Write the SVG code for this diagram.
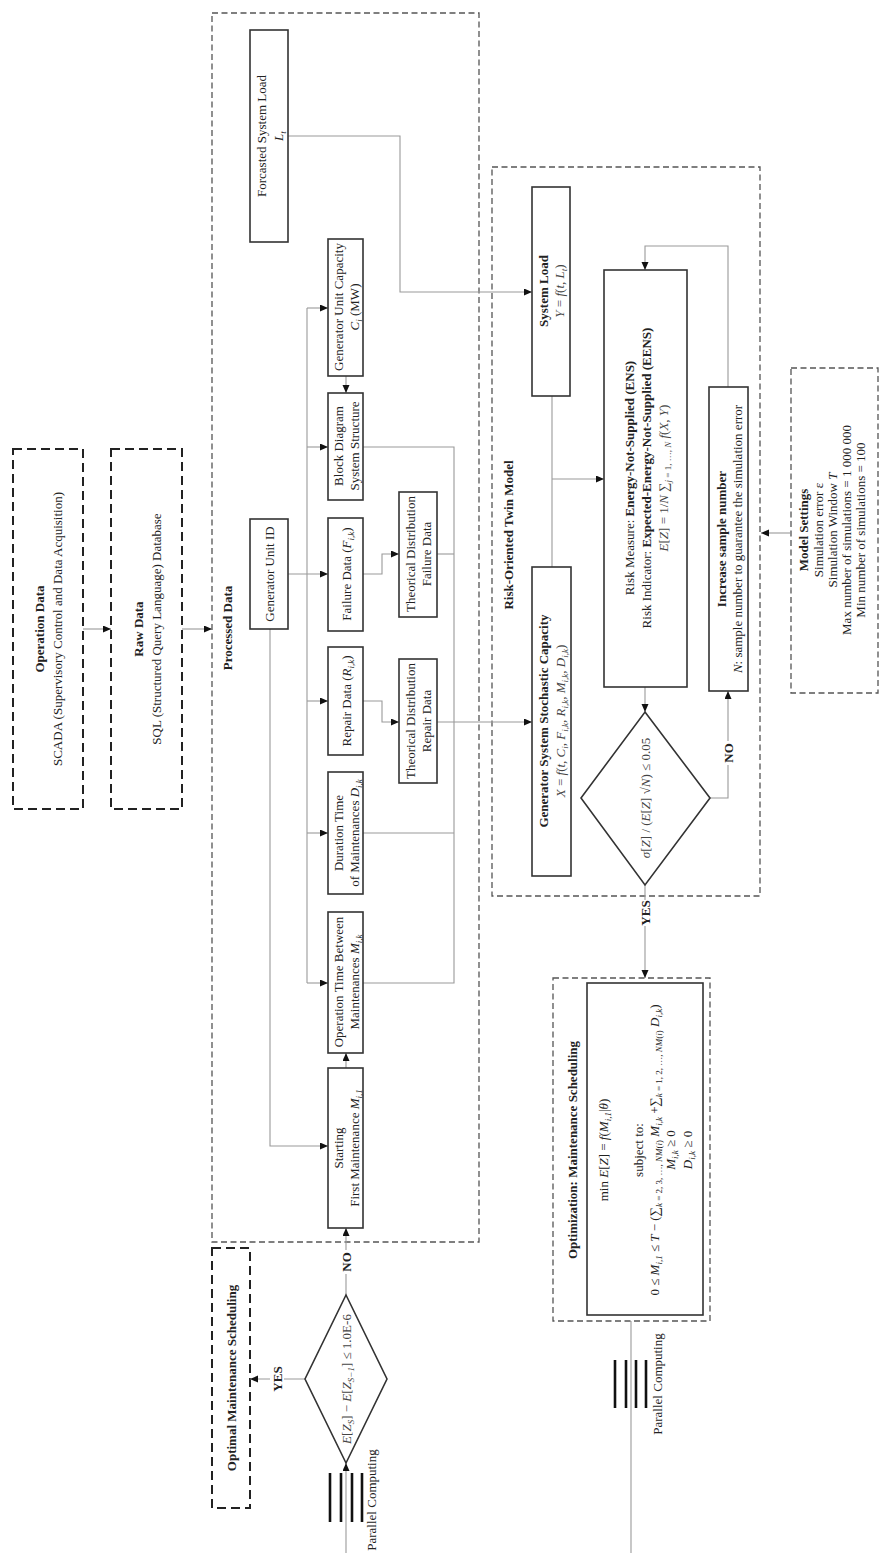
<svg xmlns="http://www.w3.org/2000/svg" width="893" height="1553" viewBox="0 0 893 1553">
<style>
.t{font-family:"Liberation Serif","Times New Roman",serif;font-size:13px;fill:#222;text-anchor:middle;dominant-baseline:central}
.b{font-weight:bold}
.i{font-style:italic}
.m{fill:#444}
.s{font-size:9px}
.box{fill:#fff;stroke:#333;stroke-width:1.6}
.dash{fill:none;stroke:#555;stroke-width:1.3;stroke-dasharray:6 3.5}
.dash2{fill:none;stroke:#222;stroke-width:2;stroke-dasharray:9 5}
.c{fill:none;stroke:#9a9a9a;stroke-width:1.1}
.a{marker-end:url(#arr)}
.pc{stroke:#111;stroke-width:2.6}
.bg{fill:#fff}
</style>
<defs>
<marker id="arr" markerUnits="userSpaceOnUse" markerWidth="9" markerHeight="8" refX="8" refY="3.5" orient="auto">
<path d="M0,0 L8,3.5 L0,7 z" fill="#111"/>
</marker>
</defs>
<rect width="893" height="1553" fill="#fff"/>

<!-- containers -->
<g id="operation-data">
<rect class="dash2" x="13" y="449" width="70" height="360"/>
<text class="t b" transform="translate(39,629) rotate(-90)">Operation Data</text>
<text class="t" transform="translate(57,629) rotate(-90)">SCADA (Supervisory Control and Data Acquisition)</text>
</g>
<g id="raw-data">
<rect class="dash2" x="111" y="449" width="71" height="360"/>
<text class="t b" transform="translate(138,629) rotate(-90)">Raw Data</text>
<text class="t" transform="translate(156,629) rotate(-90)">SQL (Structured Query Language) Database</text>
</g>
<g id="processed-data">
<rect class="dash" x="212" y="13" width="267" height="1229"/>
<text class="t b" transform="translate(227,628) rotate(-90)">Processed Data</text>
</g>
<g id="risk-model">
<rect class="dash" x="492" y="167" width="268" height="729"/>
<text class="t b" transform="translate(508,535) rotate(-90)">Risk-Oriented Twin Model</text>
</g>
<g id="optimal-maintenance">
<rect class="dash2" x="212" y="1248" width="38" height="260"/>
<text class="t b" transform="translate(231,1378) rotate(-90)">Optimal Maintenance Scheduling</text>
</g>
<g id="model-settings">
<rect class="dash" x="791" y="368" width="87" height="325"/>
<text class="t b" transform="translate(803,530) rotate(-90)">Model Settings</text>
<text class="t" transform="translate(818,530) rotate(-90)">Simulation error ε</text>
<text class="t" transform="translate(832,530) rotate(-90)">Simulation Window <tspan class="i">T</tspan></text>
<text class="t" transform="translate(846,530) rotate(-90)">Max number of simulations = 1 000 000</text>
<text class="t" transform="translate(860,530) rotate(-90)">Min number of simulations = 100</text>
</g>

<!-- connectors -->
<g id="connectors">
<path class="c a" d="M83,629 H111"/>
<path class="c a" d="M182,629 H212"/>
<path class="c a" d="M288,136 H400 V292 H532"/>
<path class="c a" d="M288,574 H328"/>
<path class="c" d="M307,308 V983"/>
<path class="c a" d="M307,308 H328"/>
<path class="c a" d="M307,447 H328"/>
<path class="c a" d="M307,701 H328"/>
<path class="c a" d="M307,833 H328"/>
<path class="c a" d="M307,983 H328"/>
<path class="c a" d="M346,376 V393"/>
<path class="c a" d="M363,574 H382 V554 H399"/>
<path class="c a" d="M363,701 H382 V722 H399"/>
<path class="c" d="M363,447 H454 V983 H363"/>
<path class="c" d="M437,554 H454"/>
<path class="c" d="M363,833 H454"/>
<path class="c a" d="M437,722 H532"/>
<path class="c a" d="M270,629 V1146 H328"/>
<path class="c a" d="M346,1068 V1053"/>
<path class="c a" d="M346,1295 V1228"/>
<path class="c a" d="M305,1379 H250"/>
<path class="c a" d="M346,1553 V1463"/>
<path class="c" d="M552,396 V567"/>
<path class="c a" d="M552,479 H604"/>
<path class="c a" d="M645,687 V712"/>
<path class="c a" d="M710,798 H728 V691"/>
<path class="c a" d="M728,387 V246 H645 V270"/>
<path class="c a" d="M790,533 H761"/>
<path class="c a" d="M645,885 V978"/>
<path class="c" d="M631,1321 V1553"/>
<rect class="bg" x="339" y="1250" width="14" height="24"/>
<text class="t b" transform="translate(346,1262) rotate(-90)">NO</text>
<rect class="bg" x="270" y="1366" width="14" height="26"/>
<text class="t b" transform="translate(277,1379) rotate(-90)">YES</text>
<rect class="bg" x="638" y="900" width="14" height="26"/>
<text class="t b" transform="translate(645,913) rotate(-90)">YES</text>
<rect class="bg" x="721" y="741" width="14" height="24"/>
<text class="t b" transform="translate(728,753) rotate(-90)">NO</text>
</g>

<!-- nodes -->
<g id="forecasted-load">
<rect class="box" x="250" y="30" width="38" height="212"/>
<text class="t" transform="translate(261,136) rotate(-90)">Forcasted System Load</text>
<text class="t" transform="translate(278,136) rotate(-90)"><tspan class="i">L</tspan><tspan class="s i" baseline-shift="sub">t</tspan></text>
</g>
<g id="unit-capacity">
<rect class="box" x="328" y="239" width="35" height="137"/>
<text class="t" transform="translate(338,307) rotate(-90)">Generator Unit Capacity</text>
<text class="t" transform="translate(354,307) rotate(-90)"><tspan class="i">C</tspan><tspan class="s i" baseline-shift="sub">i</tspan> (MW)</text>
</g>
<g id="block-diagram">
<rect class="box" x="328" y="393" width="35" height="107"/>
<text class="t" transform="translate(338,446) rotate(-90)">Block Diagram</text>
<text class="t" transform="translate(354,446) rotate(-90)">System Structure</text>
</g>
<g id="unit-id">
<rect class="box" x="250" y="519" width="38" height="110"/>
<text class="t" transform="translate(269,574) rotate(-90)">Generator Unit ID</text>
</g>
<g id="failure-data">
<rect class="box" x="328" y="518" width="35" height="113"/>
<text class="t" transform="translate(346,574) rotate(-90)">Failure Data (<tspan class="i">F</tspan><tspan class="s i" baseline-shift="sub">i,k</tspan>)</text>
</g>
<g id="theorical-failure">
<rect class="box" x="399" y="492" width="38" height="125"/>
<text class="t" transform="translate(410,554) rotate(-90)">Theorical Distribution</text>
<text class="t" transform="translate(426,554) rotate(-90)">Failure Data</text>
</g>
<g id="repair-data">
<rect class="box" x="328" y="647" width="35" height="108"/>
<text class="t" transform="translate(346,701) rotate(-90)">Repair Data (<tspan class="i">R</tspan><tspan class="s i" baseline-shift="sub">i,k</tspan>)</text>
</g>
<g id="theorical-repair">
<rect class="box" x="399" y="659" width="38" height="124"/>
<text class="t" transform="translate(410,721) rotate(-90)">Theorical Distribution</text>
<text class="t" transform="translate(426,721) rotate(-90)">Repair Data</text>
</g>
<g id="duration-time">
<rect class="box" x="328" y="772" width="35" height="122"/>
<text class="t" transform="translate(338,833) rotate(-90)">Duration Time</text>
<text class="t" transform="translate(354,833) rotate(-90)">of Maintenances <tspan class="i">D</tspan><tspan class="s i" baseline-shift="sub">i,k</tspan></text>
</g>
<g id="operation-time">
<rect class="box" x="328" y="912" width="35" height="141"/>
<text class="t" transform="translate(338,982) rotate(-90)">Operation Time Between</text>
<text class="t" transform="translate(354,982) rotate(-90)">Maintenances <tspan class="i">M</tspan><tspan class="s i" baseline-shift="sub">i,k</tspan></text>
</g>
<g id="starting-maintenance">
<rect class="box" x="328" y="1068" width="35" height="160"/>
<text class="t" transform="translate(338,1148) rotate(-90)">Starting</text>
<text class="t" transform="translate(354,1148) rotate(-90)">First Maintenance <tspan class="i">M</tspan><tspan class="s i" baseline-shift="sub">i,1</tspan></text>
</g>
<g id="convergence-check">
<polygon class="box" points="346,1295 387,1379 346,1463 305,1379"/>
<text class="t m" transform="translate(346,1379) rotate(-90)"><tspan class="i">E</tspan>[<tspan class="i">Z</tspan><tspan class="s i" baseline-shift="sub">S</tspan>] − <tspan class="i">E</tspan>[<tspan class="i">Z</tspan><tspan class="s i" baseline-shift="sub">S−1</tspan>] ≤ 1.0E-6</text>
</g>
<g id="parallel-left">
<line class="pc" x1="330" y1="1473" x2="330" y2="1522"/>
<line class="pc" x1="341" y1="1473" x2="341" y2="1522"/>
<line class="pc" x1="352" y1="1473" x2="352" y2="1522"/>
<line class="pc" x1="362" y1="1473" x2="362" y2="1522"/>
<text class="t" transform="translate(371,1500) rotate(-90)">Parallel Computing</text>
</g>
<g id="system-load">
<rect class="box" x="532" y="187" width="38" height="209"/>
<text class="t b" transform="translate(543,291) rotate(-90)">System Load</text>
<text class="t m" transform="translate(559,291) rotate(-90)"><tspan class="i">Y</tspan> = <tspan class="i">f</tspan>(<tspan class="i">t</tspan>, <tspan class="i">L</tspan><tspan class="s i" baseline-shift="sub">t</tspan>)</text>
</g>
<g id="stochastic-capacity">
<rect class="box" x="532" y="567" width="39" height="309"/>
<text class="t b" transform="translate(543,721) rotate(-90)">Generator System Stochastic Capacity</text>
<text class="t m" transform="translate(560,721) rotate(-90)"><tspan class="i">X</tspan> = <tspan class="i">f</tspan>(<tspan class="i">t</tspan>, <tspan class="i">C</tspan><tspan class="s i" baseline-shift="sub">i</tspan>, <tspan class="i">F</tspan><tspan class="s i" baseline-shift="sub">i,k</tspan>, <tspan class="i">R</tspan><tspan class="s i" baseline-shift="sub">i,k</tspan>, <tspan class="i">M</tspan><tspan class="s i" baseline-shift="sub">i,k</tspan>, <tspan class="i">D</tspan><tspan class="s i" baseline-shift="sub">i,k</tspan>)</text>
</g>
<g id="risk-measure">
<rect class="box" x="604" y="270" width="83" height="417"/>
<text class="t" transform="translate(629,478) rotate(-90)">Risk Measure: <tspan class="b">Energy-Not-Supplied (ENS)</tspan></text>
<text class="t" transform="translate(646,478) rotate(-90)">Risk Indicator: <tspan class="b">Expected-Energy-Not-Supplied (EENS)</tspan></text>
<text class="t m" transform="translate(663,478) rotate(-90)"><tspan class="i">E</tspan>[<tspan class="i">Z</tspan>] = 1/<tspan class="i">N</tspan> ∑<tspan class="s" baseline-shift="sub"><tspan class="i">j</tspan> = 1, …, <tspan class="i">N</tspan></tspan> <tspan class="i">f</tspan>(<tspan class="i">X</tspan>, <tspan class="i">Y</tspan>)</text>
</g>
<g id="increase-sample">
<rect class="box" x="709" y="387" width="39" height="304"/>
<text class="t b" transform="translate(721,539) rotate(-90)">Increase sample number</text>
<text class="t" transform="translate(737,539) rotate(-90)"><tspan class="i">N</tspan>: sample number to guarantee the simulation error</text>
</g>
<g id="error-check">
<polygon class="box" points="645,712 710,798 645,885 581,798"/>
<text class="t m" transform="translate(645,798) rotate(-90)"><tspan class="i">σ</tspan>[<tspan class="i">Z</tspan>] / (<tspan class="i">E</tspan>[<tspan class="i">Z</tspan>] √<tspan class="i">N</tspan>) ≤ 0.05</text>
</g>
<g id="optimization">
<rect class="dash" x="553" y="978" width="157" height="343"/>
<rect class="box" x="587" y="983" width="116" height="332"/>
<text class="t b" transform="translate(572,1150) rotate(-90)">Optimization: Maintenance Scheduling</text>
<text class="t" transform="translate(603,1150) rotate(-90)">min <tspan class="i">E</tspan>[<tspan class="i">Z</tspan>] = <tspan class="i">f</tspan>(<tspan class="i">M</tspan><tspan class="s i" baseline-shift="sub">i,1</tspan>|<tspan class="i">θ</tspan>)</text>
<text class="t" transform="translate(638,1150) rotate(-90)">subject to:</text>
<text class="t" transform="translate(654,1150) rotate(-90)">0 ≤ <tspan class="i">M</tspan><tspan class="s i" baseline-shift="sub">i,1</tspan> ≤ <tspan class="i">T</tspan> − (∑<tspan class="s" baseline-shift="sub"><tspan class="i">k</tspan> = 2, 3, …, <tspan class="i">NM</tspan>(<tspan class="i">i</tspan>)</tspan> <tspan class="i">M</tspan><tspan class="s i" baseline-shift="sub">i,k</tspan> +∑<tspan class="s" baseline-shift="sub"><tspan class="i">k</tspan> = 1, 2, …, <tspan class="i">NM</tspan>(<tspan class="i">i</tspan>)</tspan> <tspan class="i">D</tspan><tspan class="s i" baseline-shift="sub">i,k</tspan>)</text>
<text class="t" transform="translate(670,1150) rotate(-90)"><tspan class="i">M</tspan><tspan class="s i" baseline-shift="sub">i,k</tspan> ≥ 0</text>
<text class="t" transform="translate(687,1150) rotate(-90)"><tspan class="i">D</tspan><tspan class="s i" baseline-shift="sub">i,k</tspan> ≥ 0</text>
</g>
<g id="parallel-right">
<line class="pc" x1="615" y1="1360" x2="615" y2="1408"/>
<line class="pc" x1="626" y1="1360" x2="626" y2="1408"/>
<line class="pc" x1="636" y1="1360" x2="636" y2="1408"/>
<line class="pc" x1="646" y1="1360" x2="646" y2="1408"/>
<text class="t" transform="translate(657,1384) rotate(-90)">Parallel Computing</text>
</g>
</svg>
